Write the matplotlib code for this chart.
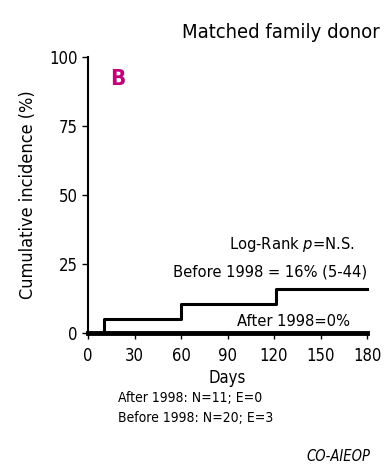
import matplotlib
matplotlib.use("Agg")
from matplotlib import pyplot as plt

# data
before_days = [0, 10, 60, 121, 180]
before_inc = [0, 5, 10.5, 16, 16]
after_days = [0, 180]
after_inc = [0, 0]
xticks = [0, 30, 60, 90, 120, 150, 180]
yticks = [0, 25, 50, 75, 100]

# condensed sans to look like the original
plt.rcParams['font.family'] = ['Liberation Sans Narrow', 'DejaVu Sans']
plt.rcParams['font.stretch'] = 'condensed'

fig = plt.figure(figsize=(3.86, 4.66), dpi=100)
ax = fig.add_axes([0.228, 0.2854, 0.723, 0.5923])

ax.step(before_days, before_inc, where="post", color="black", lw=2.2, clip_on=False)
ax.plot(after_days, after_inc, color="black", lw=3.5, clip_on=False)

ax.set_xlim(0, 180)
ax.set_ylim(0, 100)
ax.set_xticks(xticks)
ax.set_yticks(yticks)
ax.tick_params(labelsize=12, length=4, width=1)
ax.tick_params(axis='x', pad=6)
ax.spines['top'].set_visible(False)
ax.spines['right'].set_visible(False)
ax.spines['left'].set_linewidth(1.5)
ax.spines['bottom'].set_linewidth(1.5)
ax.set_xlabel("Days", fontsize=12, labelpad=3)
ax.set_ylabel("Cumulative incidence (%)", fontsize=13, labelpad=9)

ax.text(0.08, 0.92, "B", transform=ax.transAxes, fontsize=16, fontweight="bold",
        color="#c4007a", ha="left", va="center")
ax.text(1.045, 1.09, "Matched family donor", transform=ax.transAxes, fontsize=14.5,
        ha="right", va="center")
ax.text(0.955, 0.32, "Log-Rank $\\it{p}$=N.S.", transform=ax.transAxes, fontsize=11.8,
        ha="right", va="center")
ax.text(1.0, 0.22, "Before 1998 = 16% (5-44)", transform=ax.transAxes, fontsize=11.8,
        ha="right", va="center")
ax.text(0.94, 0.042, "After 1998=0%", transform=ax.transAxes, fontsize=11.8,
        ha="right", va="center")

fig.text(0.305, 0.146, "After 1998: N=11; E=0", fontsize=10, ha="left", va="center")
fig.text(0.305, 0.103, "Before 1998: N=20; E=3", fontsize=10, ha="left", va="center")
fig.text(0.96, 0.02, "CO-AIEOP", fontsize=10.5, style="italic", ha="right", va="center")

plt.savefig("out.png", dpi=100)
